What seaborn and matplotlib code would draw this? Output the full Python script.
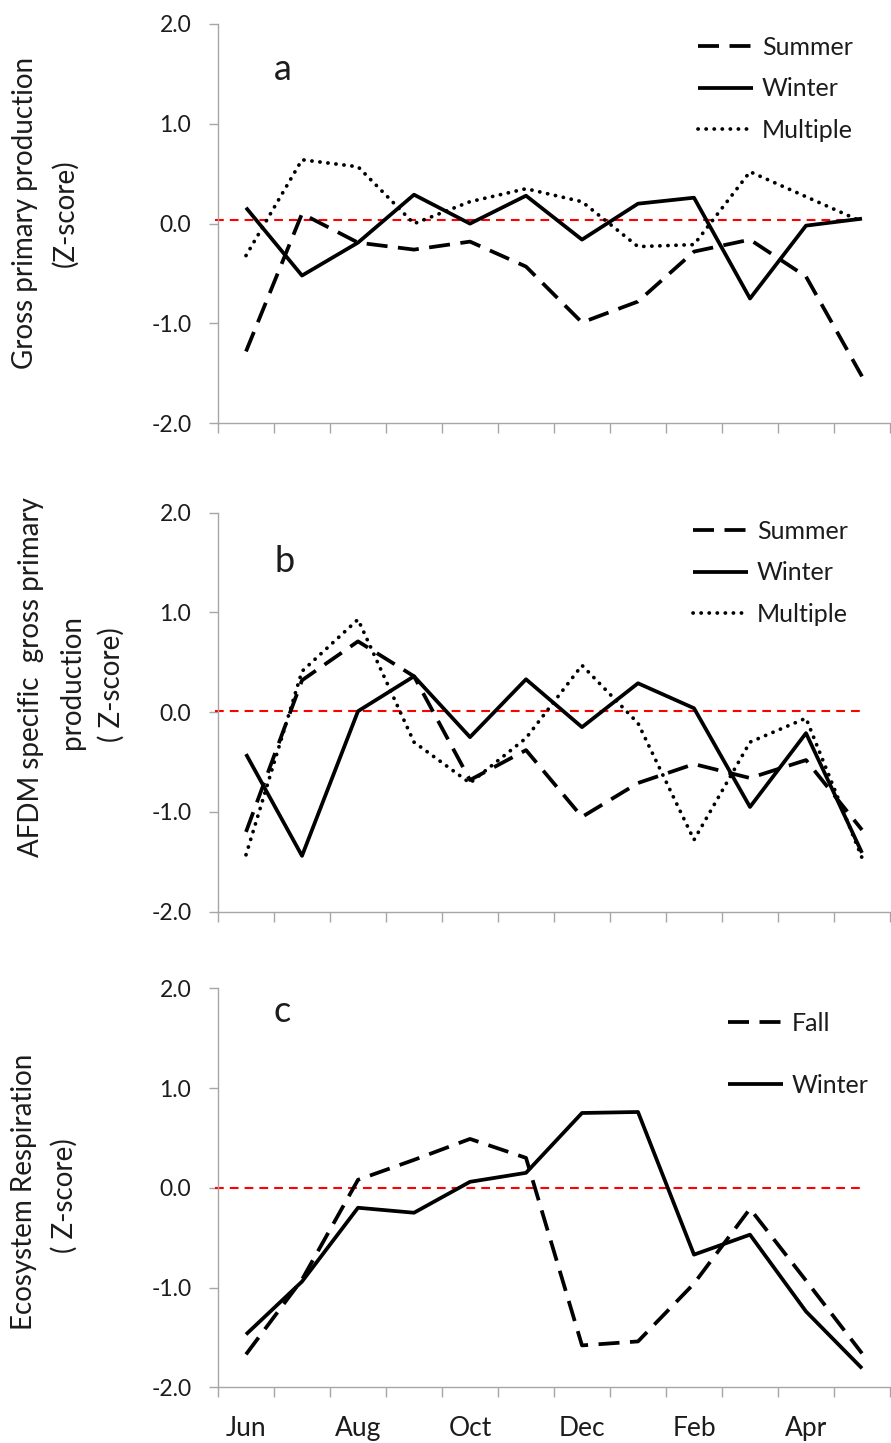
import numpy as np
import pandas as pd
import matplotlib
matplotlib.use("Agg")
import matplotlib.pyplot as plt
import seaborn as sns

# ---- data -------------------------------------------------------------
months = ["Jun", "Jul", "Aug", "Sep", "Oct", "Nov", "Dec", "Jan", "Feb", "Mar", "Apr", "May"]
labeled_months = ["Jun", "Aug", "Oct", "Dec", "Feb", "Apr"]
y_ticks = [-2.0, -1.0, 0.0, 1.0, 2.0]

# a: gross primary production (Z-score)
gpp_summer = [-1.28, 0.10, -0.19, -0.26, -0.18, -0.43, -0.99, -0.78, -0.28, -0.16, -0.53, -1.53]
gpp_winter = [0.16, -0.52, -0.19, 0.29, 0.00, 0.28, -0.16, 0.20, 0.26, -0.75, -0.02, 0.05]
gpp_multiple = [-0.32, 0.64, 0.57, 0.00, 0.22, 0.35, 0.22, -0.23, -0.21, 0.52, 0.27, 0.02]

# b: AFDM specific gross primary production (Z-score)
afdm_summer = [-1.20, 0.32, 0.71, 0.36, -0.68, -0.38, -1.05, -0.71, -0.52, -0.66, -0.48, -1.18]
afdm_winter = [-0.42, -1.44, 0.01, 0.36, -0.25, 0.33, -0.15, 0.29, 0.04, -0.95, -0.21, -1.41]
afdm_multiple = [-1.43, 0.41, 0.93, -0.30, -0.71, -0.26, 0.47, -0.11, -1.28, -0.30, -0.06, -1.46]

# c: ecosystem respiration (Z-score)
er_fall = [-1.67, -0.92, 0.08, 0.28, 0.49, 0.30, -1.58, -1.54, -0.96, -0.21, -0.93, -1.66]
er_winter = [-1.47, -0.94, -0.20, -0.25, 0.06, 0.15, 0.75, 0.76, -0.67, -0.47, -1.24, -1.81]

# reference levels of the red dashed guide lines
ref_levels = [0.04, 0.01, 0.0]

# ---- style ------------------------------------------------------------
sns.set_theme(style="white")
plt.rcParams["font.family"] = ["Lato", "DejaVu Sans"]
plt.rcParams["axes.unicode_minus"] = False

TEXT = "#1c1c1c"
AXIS = "#a6a6a6"
LW = 2.7
styles = {
    "Summer": dict(linestyle=(0, (5.6, 2.8)), dash_capstyle="butt"),
    "Fall": dict(linestyle=(0, (5.6, 2.8)), dash_capstyle="butt"),
    "Winter": dict(linestyle="-", solid_capstyle="butt"),
    "Multiple": dict(linestyle=(0, (0.05, 2.1)), dash_capstyle="round"),
}

W, H = 891, 1443
fig = plt.figure(figsize=(W / 100, H / 100), dpi=100)


def fx(px):
    return px / W


def fy(py):
    return 1 - py / H


ax_left, ax_right = 218, 890
panels = [
    dict(top=24, bottom=423.3, letter="a", letter_xy=(283, 70),
         series=[("Summer", gpp_summer), ("Winter", gpp_winter), ("Multiple", gpp_multiple)],
         ylabel=[("Gross primary production", 25, 213), ("(Z-score)", 65, 213)],
         legend_xy=(698, 36), spacing=0.74, show_months=False),
    dict(top=512.7, bottom=911.7, letter="b", letter_xy=(285, 561),
         series=[("Summer", afdm_summer), ("Winter", afdm_winter), ("Multiple", afdm_multiple)],
         ylabel=[("AFDM specific  gross primary", 31, 677), ("production", 72, 682),
                 ("( Z-score)", 111, 685)],
         legend_xy=(693, 520), spacing=0.74, show_months=False),
    dict(top=988.3, bottom=1387.3, letter="c", letter_xy=(282, 1012),
         series=[("Fall", er_fall), ("Winter", er_winter)],
         ylabel=[("Ecosystem Respiration", 24, 1192), ("( Z-score)", 64, 1196)],
         legend_xy=(728, 1012), spacing=1.55, show_months=True),
]

x = np.arange(len(months))

for p, ref in zip(panels, ref_levels):
    ax = fig.add_axes([fx(ax_left), fy(p["bottom"]), fx(ax_right - ax_left),
                       (p["bottom"] - p["top"]) / H])
    ax.set_facecolor("none")

    for name, vals in p["series"]:
        df = pd.DataFrame({"pos": x, "z": vals})
        sns.lineplot(data=df, x="pos", y="z", ax=ax, color="black", lw=LW,
                     label=name, **styles[name])

    ax.hlines(ref, -0.55, len(months) - 1, colors="#ff0000", lw=1.5,
              linestyles=[(0, (4.2, 2.9))], clip_on=False, zorder=1)

    ax.set_xlim(-0.5, len(months) - 0.5)
    ax.set_ylim(-2, 2)
    ax.set_xlabel("")
    ax.set_ylabel("")

    ax.set_xticks(np.arange(-0.5, len(months), 1.0))
    ax.set_xticklabels([])
    ax.set_xticks([months.index(m) for m in labeled_months], minor=True)
    if p["show_months"]:
        ax.set_xticklabels(labeled_months, minor=True)
    else:
        ax.set_xticklabels([], minor=True)
    ax.tick_params(axis="x", which="major", direction="out", length=7.2,
                   width=1.0, color=AXIS, bottom=True)
    ax.tick_params(axis="x", which="minor", length=0, pad=21,
                   labelsize=19, labelcolor=TEXT, bottom=True)

    ax.set_yticks(y_ticks)
    ax.set_yticklabels([f"{v:.1f}" for v in y_ticks])
    ax.tick_params(axis="y", direction="out", length=6.7, width=1.0,
                   color=AXIS, pad=12.5, labelsize=16.5, labelcolor=TEXT, left=True)

    for s in ["top", "right"]:
        ax.spines[s].set_visible(False)
    for s in ["left", "bottom"]:
        ax.spines[s].set_color(AXIS)
        ax.spines[s].set_linewidth(1.0)

    handles, labels = ax.get_legend_handles_labels()
    lx, ly = p["legend_xy"]
    ax.legend(handles, labels, loc="upper left",
              bbox_to_anchor=(fx(lx), fy(ly)), bbox_transform=fig.transFigure,
              frameon=False, fontsize=18, handlelength=2.2, handletextpad=0.35,
              labelspacing=p["spacing"], borderpad=0, borderaxespad=0,
              labelcolor=TEXT)

    lx, ly = p["letter_xy"]
    fig.text(fx(lx), fy(ly), p["letter"], ha="center", va="center",
             fontsize=26, color=TEXT)

    for txt, tx, ty in p["ylabel"]:
        fig.text(fx(tx), fy(ty), txt, rotation=90, ha="center", va="center",
                 fontsize=20, color=TEXT)

fig.savefig("out.png", dpi=100)
